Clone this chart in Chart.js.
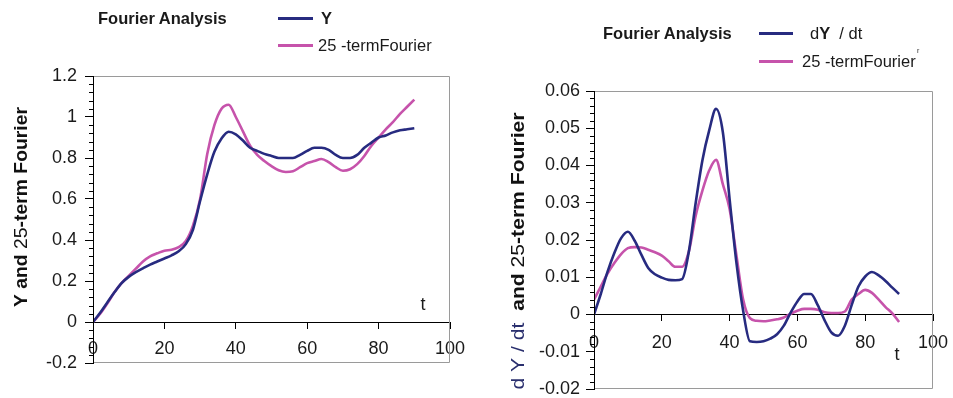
<!DOCTYPE html>
<html><head><meta charset="utf-8">
<script src="https://cdn.jsdelivr.net/npm/chart.js@4.4.1/dist/chart.umd.min.js"></script>
<style>
html,body{margin:0;padding:0;background:#fff;width:953px;height:398px;overflow:hidden;font-family:"Liberation Sans",Arial,sans-serif;}
canvas{position:absolute;top:0;}
#c1{left:0;}
#c2{left:480px;}
.lg{position:absolute;white-space:nowrap;color:#1a1a1a;line-height:1;}
.sw{position:absolute;height:3px;width:35px;}
</style></head><body>
<canvas id="c1" width="480" height="398"></canvas>
<canvas id="c2" width="473" height="398"></canvas>
<div id="legends"></div>
<script>
// ---------------- DATA ----------------
const t = [0,2,4,6,8,10,12,14,16,18,20,22,24,26,28,30,32,34,36,38,40,42,44,46,48,50,52,54,56,58,60,62,64,66,68,70,72,74,76,78,80,82,84,86,88,90];

// Left chart: Y and 25-term Fourier
const yValues = [0,0.045,0.095,0.145,0.19,0.22,0.243,0.262,0.28,0.295,0.31,0.325,0.345,0.38,0.45,0.59,0.72,0.83,0.895,0.928,0.915,0.885,0.85,0.835,0.82,0.81,0.80,0.80,0.80,0.815,0.835,0.85,0.85,0.84,0.815,0.80,0.80,0.815,0.85,0.875,0.90,0.91,0.925,0.935,0.94,0.945];
const yFourier = [0,0.04,0.09,0.145,0.19,0.225,0.26,0.295,0.32,0.335,0.348,0.352,0.365,0.395,0.47,0.60,0.82,0.96,1.04,1.06,1.0,0.93,0.86,0.815,0.785,0.76,0.74,0.732,0.735,0.755,0.775,0.785,0.795,0.78,0.755,0.738,0.745,0.77,0.81,0.86,0.90,0.94,0.975,1.015,1.05,1.085];

// Right chart: dY/dt and 25-term Fourier
const dyValues = [0,0.0055,0.0115,0.0165,0.0205,0.0222,0.0198,0.016,0.0125,0.0108,0.0099,0.0093,0.0092,0.0095,0.017,0.030,0.0415,0.0495,0.0552,0.049,0.031,0.014,0.001,-0.0072,-0.0074,-0.0072,-0.0065,-0.0053,-0.003,0.0005,0.0035,0.0055,0.0055,0.0025,-0.0015,-0.0048,-0.0057,-0.003,0.0025,0.0075,0.0102,0.0114,0.0105,0.009,0.0072,0.0055];
const dyFourier = [0.004,0.0075,0.011,0.0138,0.0162,0.0178,0.0181,0.018,0.0174,0.0167,0.0158,0.0143,0.0128,0.0128,0.017,0.0265,0.0333,0.0387,0.0415,0.035,0.0283,0.016,0.004,-0.001,-0.0017,-0.0018,-0.0016,-0.0013,-0.0008,0.0002,0.001,0.0015,0.0015,0.0013,0.0006,0.0004,0.0004,0.0008,0.004,0.0055,0.0066,0.0058,0.004,0.002,0.0003,-0.002];

// Tick labels
const xTicks = [0,20,40,60,80,100];
const yTicksLeft = [-0.2,0,0.2,0.4,0.6,0.8,1,1.2];
const yTicksRight = [-0.02,-0.01,0,0.01,0.02,0.03,0.04,0.05,0.06];

// Series labels
const leftLabels = ['Y','25 -termFourier'];
const rightLabels = ['dY / dt','25 -termFourier'];
const chartTitle = 'Fourier Analysis';

// ---------------- STYLE ----------------
const NAVY = '#272b80';
const MAGENTA = '#c653ab';
const FONT = '"Liberation Sans", Arial, sans-serif';

const framePlugin = {
  id: 'frame',
  afterDraw(chart, args, opts) {
    const {ctx, chartArea: a} = chart;
    const ys = chart.scales.y;
    // gray plot frame (top, right, bottom)
    ctx.save();
    ctx.strokeStyle = '#9a9a9a';
    ctx.lineWidth = 1;
    ctx.beginPath();
    const L = Math.round(a.left) + 0.5, R = Math.round(a.right) - 0.5;
    const T = Math.round(a.top) + 0.5, B = Math.round(a.bottom) - 0.5;
    ctx.moveTo(L, T); ctx.lineTo(R, T); ctx.lineTo(R, B); ctx.lineTo(L, B);
    ctx.stroke();
    // re-draw black y axis line on top
    ctx.strokeStyle = '#000';
    ctx.beginPath(); ctx.moveTo(L, T - 0.5); ctx.lineTo(L, B + 0.5); ctx.stroke();
    // minor ticks on y axis
    const n = Math.round((ys.max - ys.min) / opts.minor);
    for (let k = 0; k <= n; k++) {
      if (k % opts.per === 0) continue;
      const py = Math.round(ys.getPixelForValue(ys.min + k * opts.minor)) + 0.5;
      ctx.beginPath();
      ctx.moveTo(a.left - 4, py);
      ctx.lineTo(a.left + 1, py);
      ctx.stroke();
    }
    ctx.restore();
    // axis title (rotated, mixed styles)
    ctx.save();
    const segs = opts.title;
    let total = 0;
    segs.forEach(s => { ctx.font = s.font; s.w = ctx.measureText(s.text).width; total += s.w; });
    ctx.translate(opts.titleX, opts.titleY);
    ctx.rotate(-Math.PI / 2);
    ctx.scale(opts.titleLen / total, 1);
    ctx.textBaseline = 'middle';
    ctx.textAlign = 'left';
    let x = -total / 2;
    segs.forEach(s => { ctx.font = s.font; ctx.fillStyle = s.color; ctx.fillText(s.text, x, 0); x += s.w; });
    ctx.restore();
    // "t" label near x axis
    ctx.save();
    ctx.font = '18px ' + FONT;
    ctx.fillStyle = '#1a1a1a';
    ctx.textAlign = 'center';
    ctx.textBaseline = 'middle';
    const y0 = ys.getPixelForValue(0);
    ctx.fillText('t', a.right + opts.tdx, y0 + opts.tdy);
    ctx.restore();
  }
};

function makeChart(id, c) {
  const tickFont = {family: FONT, size: 18};
  return new Chart(document.getElementById(id), {
    type: 'line',
    data: {
      datasets: [
        {label: c.labels[0], data: t.map((x, i) => ({x, y: c.s1[i]})), borderColor: NAVY, borderWidth: 2.6, pointRadius: 0, cubicInterpolationMode: 'monotone', fill: false},
        {label: c.labels[1], data: t.map((x, i) => ({x, y: c.s2[i]})), borderColor: MAGENTA, borderWidth: 2.6, pointRadius: 0, cubicInterpolationMode: 'monotone', fill: false}
      ]
    },
    options: {
      responsive: false, animation: false, devicePixelRatio: 1,
      layout: {padding: {left: 0, top: c.padTop, right: c.padRight, bottom: c.padBottom}},
      plugins: {
        legend: {display: false}, tooltip: {enabled: false},
        frame: {minor: c.minor, per: c.per, title: c.title, titleX: c.titleX, titleY: c.titleY, titleLen: c.titleLen, tdx: c.tdx, tdy: c.tdy}
      },
      scales: {
        x: {
          type: 'linear', min: 0, max: 100, position: {y: 0},
          afterBuildTicks: s => { s.ticks = xTicks.map(v => ({value: v})); },
          afterFit: s => { s.paddingLeft = 0; s.paddingRight = 0; },
          ticks: {font: tickFont, color: '#1a1a1a', padding: c.xPad, maxRotation: 0, autoSkip: false, callback: v => String(v)},
          grid: {drawOnChartArea: false, drawTicks: true, tickLength: 6, tickColor: '#000'},
          border: {color: '#000', width: 1}
        },
        y: {
          type: 'linear', min: c.yTicks[0], max: c.yTicks[c.yTicks.length - 1],
          afterBuildTicks: s => { s.ticks = c.yTicks.map(v => ({value: v})); },
          afterFit: s => { s.width = c.axisW; s.paddingTop = 0; s.paddingBottom = 0; },
          ticks: {font: tickFont, color: '#1a1a1a', padding: c.yPad, autoSkip: false, callback: v => String(+v.toFixed(4))},
          grid: {drawOnChartArea: false, drawTicks: true, tickLength: 8, tickColor: '#000'},
          border: {color: '#000', width: 1}
        }
      }
    },
    plugins: [framePlugin]
  });
}

const boldT = 'bold 18px ' + FONT, normT = '18px ' + FONT;
const ch1 = makeChart('c1', {
  s1: yValues, s2: yFourier, labels: leftLabels, yTicks: yTicksLeft,
  padTop: 76, padRight: 30, padBottom: 35, axisW: 93, xPad: 10, yPad: 8,
  minor: 0.04, per: 5,
  title: [{text: 'Y and ', font: boldT, color: '#111'}, {text: '25', font: normT, color: '#111'}, {text: '-term Fourier', font: boldT, color: '#111'}],
  titleX: 22, titleY: 207, titleLen: 200, tdx: -27, tdy: -17
});
const ch2 = makeChart('c2', {
  s1: dyValues, s2: dyFourier, labels: rightLabels, yTicks: yTicksRight,
  padTop: 91, padRight: 20, padBottom: 9, axisW: 114, xPad: 12, yPad: 6,
  minor: 0.002, per: 5,
  title: [{text: 'd Y / dt', font: normT, color: '#2a2f6e'}, {text: '  and ', font: boldT, color: '#111'}, {text: '25', font: normT, color: '#111'}, {text: '-term Fourier', font: boldT, color: '#111'}],
  titleX: 39, titleY: 251, titleLen: 277, tdx: -36, tdy: 41
});

// ---------------- LEGENDS (HTML text) ----------------
function addDiv(cls, left, top, html, style) {
  const d = document.createElement('div');
  d.className = cls;
  d.style.left = left + 'px';
  d.style.top = top + 'px';
  if (html) d.innerHTML = html;
  Object.assign(d.style, style || {});
  document.getElementById('legends').appendChild(d);
  return d;
}
function esc(s) { return s.replace(/&/g, '&amp;').replace(/</g, '&lt;'); }

// left
addDiv('lg', 98, 10, esc(chartTitle), {fontWeight: 'bold', fontSize: '16.5px'});
addDiv('sw', 278, 17, '', {background: ch1.data.datasets[0].borderColor});
addDiv('lg', 321, 10, esc(ch1.data.datasets[0].label), {fontWeight: 'bold', fontSize: '16.5px'});
addDiv('sw', 278, 44, '', {background: ch1.data.datasets[1].borderColor});
addDiv('lg', 318, 37, esc(ch1.data.datasets[1].label), {fontSize: '16.5px'});

// right
addDiv('lg', 603, 25, esc(chartTitle), {fontWeight: 'bold', fontSize: '16.5px'});
addDiv('sw', 759, 32, '', {background: ch2.data.datasets[0].borderColor, width: '34px'});
const l2 = ch2.data.datasets[0].label; // 'dY / dt'
addDiv('lg', 810, 25, esc(l2[0]) + '<b>' + esc(l2[1]) + '</b>&nbsp;' + esc(l2.slice(2)), {fontSize: '16.5px'});
addDiv('sw', 759, 60, '', {background: ch2.data.datasets[1].borderColor, width: '34px'});
addDiv('lg', 802, 53, esc(ch2.data.datasets[1].label), {fontSize: '16.5px'});
addDiv('lg', 917, 47, 'ʳ', {fontSize: '10px'});
</script>
</body></html>
